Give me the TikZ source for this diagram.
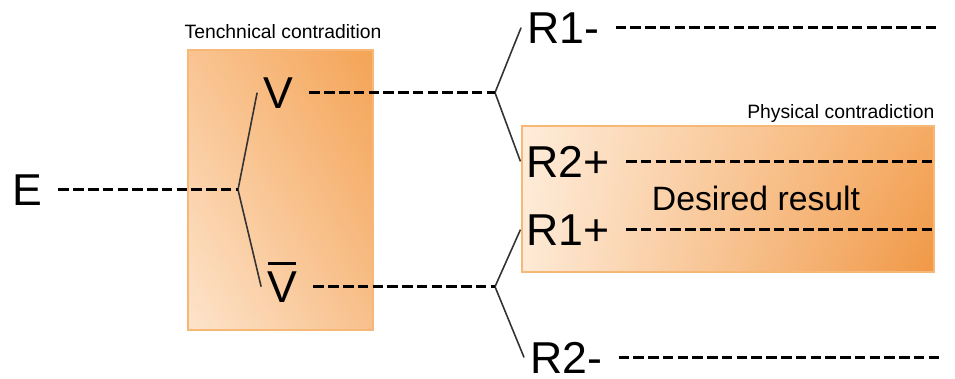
\documentclass[tikz,border=0pt]{standalone}
\usepackage{fontspec}
\setmainfont{Liberation Sans}
\usetikzlibrary{shadings}
\definecolor{boxedge}{HTML}{F7B877}
\newcommand\barV{\smash{\rlap{\hspace{0.02em}\rule[0.82em]{0.62em}{0.07em}}}V}
\begin{document}
\begin{tikzpicture}[x=0.01cm,y=-0.01cm,
  big/.style={font=\fontsize{12.7}{15}\selectfont,inner sep=1.5pt,anchor=base},
  small/.style={font=\fontsize{5.5}{7}\selectfont,inner sep=0pt,anchor=base},
  dl/.style={line width=1.05pt,dash pattern=on 3pt off 1.2pt,shorten <=3pt},
  br/.style={draw=black!80,line width=0.45pt}]
\useasboundingbox (0,0) rectangle (955,378);
% the two boxes
\shade[lower left={rgb,255:red,253;green,228;blue,203},upper right={rgb,255:red,244;green,164;blue,86},
  upper left={rgb,255:red,249;green,196;blue,146},lower right={rgb,255:red,248;green,192;blue,140}]
  (188,50) rectangle (373,330);
\draw[boxedge,line width=0.5pt] (188,50) rectangle (373,330);
\shade[lower left={rgb,255:red,254;green,234;blue,214},upper left={rgb,255:red,254;green,236;blue,218},
  upper right={rgb,255:red,245;green,170;blue,98},lower right={rgb,255:red,240;green,152;blue,70}]
  (522,126) rectangle (934,272);
\draw[boxedge,line width=0.5pt] (522,126) rectangle (934,272);
\node[small] (tc) at (283,38) {Tenchnical contradition};
\node[small,anchor=base east] (pc) at (935,118) {Physical contradiction};
\node[font=\fontsize{9.6}{12}\selectfont,anchor=base] (dr) at (756,210) {Desired result};
% labels
\node[big] (E) at (27,205) {E};
\node[big] (V) at (278,108) {V};
\node[big] (Vb) at (282,302) {\barV};
\node[big] (R1m) at (563,43) {R1-};
\node[big] (R2p) at (568,177) {R2+};
\node[big] (R1p) at (568,245) {R1+};
\node[big] (R2m) at (566,373) {R2-};
\coordinate (j0) at (E.east -| 238,0);
\coordinate (j1) at (V.east -| 495,0);
\coordinate (j2) at (Vb.east -| 495,0);
\coordinate (e1) at (938,30);
\coordinate (e2) at (935,163);
\coordinate (e3) at (935,230);
\coordinate (e4) at (942,362);
% branches
\draw[br] (V.west) -- (j0) -- (Vb.west);
\draw[br] (R1m.west) -- (j1) -- (R2p.west);
\draw[br] (R1p.west) -- (j2) -- (R2m.west);
% dashed lines
\draw[dl] (E.east) -- (j0);
\draw[dl] (V.east) -- (j1);
\draw[dl] (Vb.east) -- (j2);
\draw[dl] (R1m.east) -- (R1m.east -| e1);
\draw[dl] (R2p.east) -- (R2p.east -| e2);
\draw[dl] (R1p.east) -- (R1p.east -| e3);
\draw[dl] (R2m.east) -- (R2m.east -| e4);
\end{tikzpicture}
\end{document}
